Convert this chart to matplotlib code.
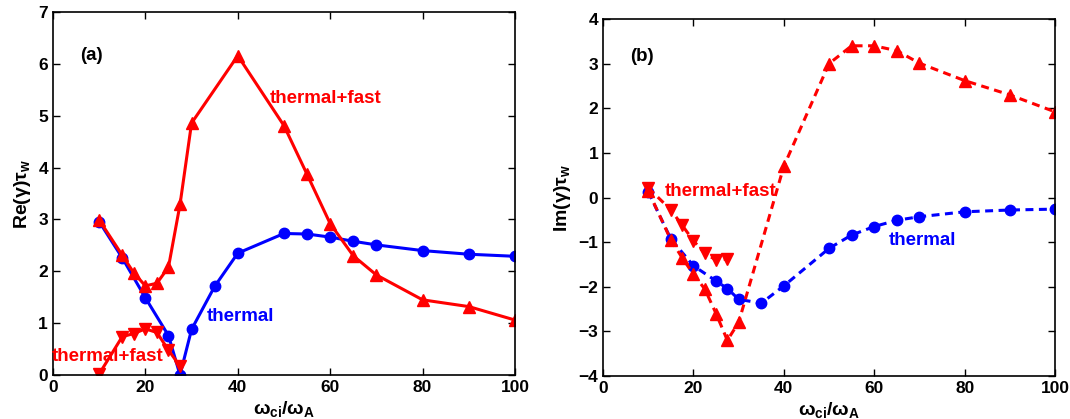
import numpy as np
import matplotlib
matplotlib.use('Agg')
import matplotlib.pyplot as plt

plt.rcParams['font.family'] = ['Liberation Sans', 'DejaVu Sans']
plt.rcParams['font.weight'] = 'bold'
plt.rcParams['axes.labelweight'] = 'bold'
plt.rcParams['mathtext.fontset'] = 'custom'
plt.rcParams['mathtext.rm'] = 'Liberation Sans:bold'
plt.rcParams['mathtext.it'] = 'Liberation Sans:bold'
plt.rcParams['mathtext.bf'] = 'Liberation Sans:bold'
plt.rcParams['mathtext.sf'] = 'Liberation Sans'
plt.rcParams['mathtext.default'] = 'rm'

# (a) real part
x_th = [10, 15, 20, 25, 27.5, 30, 35, 40, 50, 55, 60, 65, 70, 80, 90, 100]
re_th = [2.96, 2.26, 1.49, 0.76, 0.0, 0.88, 1.71, 2.35, 2.73, 2.72, 2.66, 2.58, 2.51, 2.40, 2.33, 2.29]
x_up = [10, 15, 17.5, 20, 22.5, 25, 27.5, 30, 40, 50, 55, 60, 65, 70, 80, 90, 100]
re_up = [2.99, 2.31, 1.97, 1.72, 1.77, 2.08, 3.29, 4.86, 6.16, 4.81, 3.87, 2.92, 2.30, 1.93, 1.45, 1.32, 1.06]
x_dn = [10, 15, 17.5, 20, 22.5, 25, 27.5]
re_dn = [0.02, 0.74, 0.80, 0.89, 0.82, 0.48, 0.17]

# (b) imaginary part
im_th = [0.13, -0.93, -1.53, -1.87, -2.04, -2.28, -2.37, -1.98, -1.14, -0.84, -0.65, -0.51, -0.43, -0.32, -0.28, -0.26]
im_up = [0.15, -0.95, -1.35, -1.72, -2.05, -2.60, -3.20, -2.80, 0.70, 3.00, 3.40, 3.40, 3.29, 3.01, 2.62, 2.30, 1.92]
im_dn = [0.22, -0.28, -0.62, -0.97, -1.25, -1.40, -1.38]

blue = '#0000ff'
red = '#ff0000'

fig = plt.figure(figsize=(10.70, 4.19), dpi=100)
ax1 = fig.add_axes([0.0495, 0.105, 0.4318, 0.866])
ax2 = fig.add_axes([0.5636, 0.1026, 0.4224, 0.852])

ax1.plot(x_th, re_th, '-o', color=blue, lw=2.2, ms=7.5)
ax1.plot(x_up, re_up, '-^', color=red, lw=2.2, ms=9)
ax1.plot(x_dn, re_dn, '-v', color=red, lw=2.2, ms=9)

ax2.plot(x_th, im_th, '--o', color=blue, lw=2.2, ms=7.5, dashes=(2.6, 1.8))
ax2.plot(x_up, im_up, '--^', color=red, lw=2.2, ms=9, dashes=(2.6, 1.8))
ax2.plot(x_dn, im_dn, '--v', color=red, lw=2.2, ms=9, dashes=(2.6, 1.8))

ax1.set_xlim(0, 100)
ax1.set_ylim(0, 7)
ax2.set_xlim(0, 100)
ax2.set_ylim(-4, 4)
ax1.set_yticks(range(0, 8))
ax2.set_yticks(range(-4, 5))
ax2.yaxis.set_major_formatter(matplotlib.ticker.FuncFormatter(lambda v, p: '%d' % v if v >= 0 else '\u2212%d' % -v))

ax1.set_ylabel(r'Re($\mathsf{\gamma}$)$\mathsf{\tau}_{w}$', fontsize=14, labelpad=4)
ax2.set_ylabel(r'Im($\mathsf{\gamma}$)$\mathsf{\tau}_{w}$', fontsize=14, labelpad=4)
for ax in (ax1, ax2):
    ax.set_xticks(range(0, 101, 20))
    ax.set_xlabel(r'$\mathsf{\omega}_{ci}$/$\mathsf{\omega}_{A}$', fontsize=14, labelpad=3)
    ax.tick_params(direction='in', top=True, right=True, labelsize=12.5, length=5, width=1)
    for lab in ax.get_xticklabels() + ax.get_yticklabels():
        lab.set_fontweight('bold')
    for s in ax.spines.values():
        s.set_linewidth(1.2)

ax1.text(5.8, 6.17, '(a)', fontsize=13.5, fontweight='bold', va='center')
ax1.text(46.9, 5.34, 'thermal+fast', color=red, fontsize=13.5, fontweight='bold', va='center')
ax1.text(33.3, 1.12, 'thermal', color=blue, fontsize=13.5, fontweight='bold', va='center')
ax1.text(-0.2, 0.36, 'thermal+fast', color=red, fontsize=13.5, fontweight='bold', va='center')

ax2.text(5.9, 3.16, '(b)', fontsize=13.5, fontweight='bold', va='center')
ax2.text(13.6, 0.14, 'thermal+fast', color=red, fontsize=13.5, fontweight='bold', va='center')
ax2.text(63.2, -0.97, 'thermal', color=blue, fontsize=13.5, fontweight='bold', va='center')

fig.savefig('out.png', dpi=100)
